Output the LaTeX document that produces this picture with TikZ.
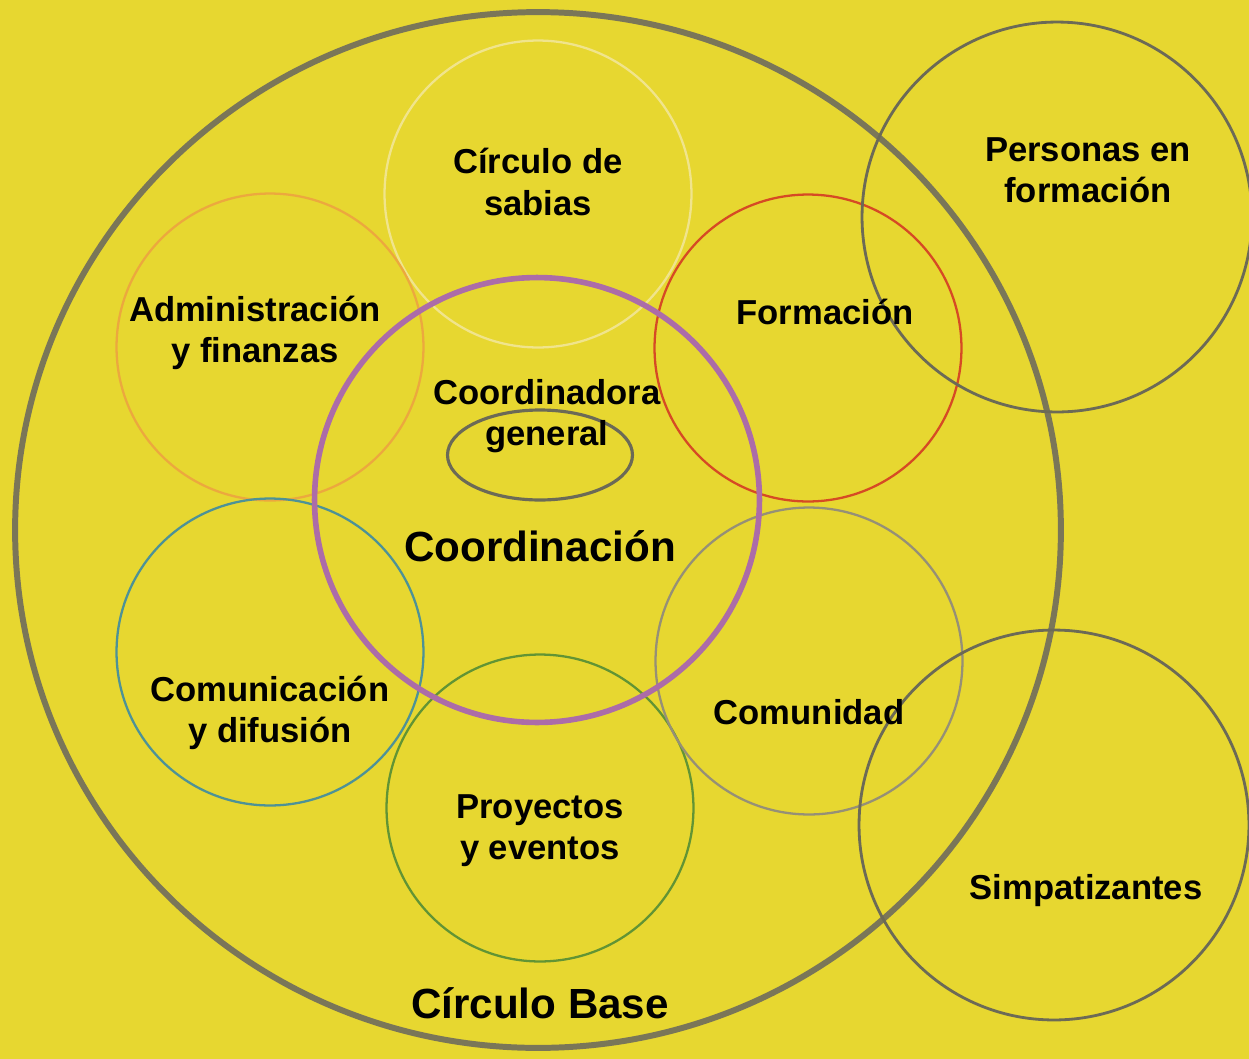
\documentclass[tikz,border=0pt]{standalone}
\usepackage{fontspec}
\setmainfont{Liberation Sans}
\usepackage{xcolor}
\usepackage{tikz}
\usetikzlibrary{shapes}

\definecolor{fondo}{RGB}{231,215,48}
\definecolor{base}{RGB}{122,118,88}
\definecolor{morado}{RGB}{172,108,168}
\definecolor{sabia}{RGB}{240,228,140}
\definecolor{naranja}{RGB}{236,168,62}
\definecolor{rojo}{RGB}{214,74,36}
\definecolor{azul}{RGB}{78,146,150}
\definecolor{verde}{RGB}{98,148,52}
\definecolor{gris}{RGB}{150,144,118}
\definecolor{oscuro}{RGB}{108,106,86}

\begin{document}
\begin{tikzpicture}[x=0.02cm, y=-0.02cm,
		area/.style={circle, draw, inner sep=0pt, minimum size=6.14cm, line width=1.3pt},
		externo/.style={circle, draw=oscuro, inner sep=0pt, minimum size=7.8cm, line width=1.6pt},
		texto/.style={align=center, font=\bfseries\fontsize{19.7}{23.4}\selectfont},
		titulo/.style={align=center, font=\bfseries\fontsize{24}{28}\selectfont}]
			\fill[fondo] (0, 0) rectangle (1249, 1059);
			\useasboundingbox (0, 0) rectangle (1249, 1059);

			\node[ellipse, draw=base, line width=3.4pt, inner sep=0pt,
				minimum width=20.92cm, minimum height=20.72cm]	(base)	at (538, 530)	{};

			\node[area, draw=sabia]		(sabias)		at (538, 194)	{};
			\node[area, draw=naranja]	(admin)		at (270, 347)	{};
			\node[area, draw=rojo]		(formacion)	at (808, 348)	{};
			\node[area, draw=azul]		(comunicacion)	at (270, 652)	{};
			\node[area, draw=verde]		(proyectos)	at (540, 808)	{};
			\node[area, draw=gris]		(comunidad)	at (809, 661)	{};

			\node[circle, draw=morado, line width=3.2pt, inner sep=0pt,
				minimum size=8.9cm]	(coordinacion)	at (537, 500)	{};
			\node[ellipse, draw=oscuro, line width=1.8pt, inner sep=0pt,
				minimum width=3.7cm, minimum height=1.8cm]	(general)	at (540, 455)	{};

			\node[externo]	(personas)	at (1057, 217)	{};
			\node[externo]	(simpatizantes)	at (1054, 825)	{};

			\node[texto]	(t-sabias)		at (538, 182)	{Círculo de\\sabias};
			\node[texto]	(t-admin)		at (255, 333)	{Administración\\y finanzas};
			\node[texto]	(t-formacion)	at (825, 312)	{Formación};
			\node[texto]	(t-general)		at (547, 416)	{Coordinadora\\general};
			\node[titulo]	(t-coordinacion)	at (540, 546)	{Coordinación};
			\node[texto]	(t-comunicacion)	at (270, 713)	{Comunicación\\y difusión};
			\node[texto]	(t-proyectos)	at (540, 831)	{Proyectos\\y eventos};
			\node[texto]	(t-comunidad)	at (809, 712)	{Comunidad};
			\node[texto]	(t-personas)	at (1088, 170)	{Personas en\\formación};
			\node[texto]	(t-simpatizantes)	at (1086, 891)	{Simpatizantes};
			\node[titulo]	(t-base)		at (540, 1003)	{Círculo Base};
		\end{tikzpicture}
\end{document}
